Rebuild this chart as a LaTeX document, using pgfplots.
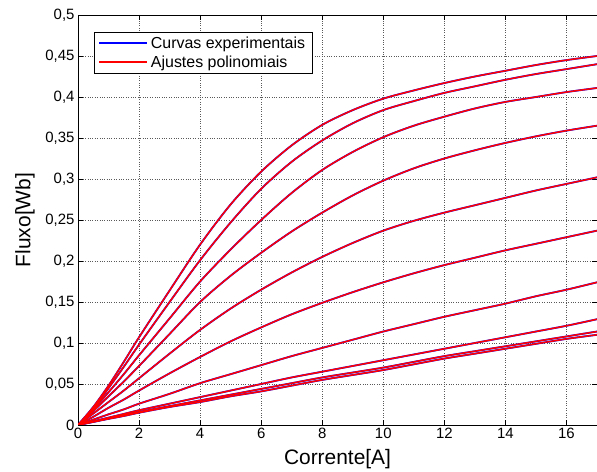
\documentclass[border=0pt]{standalone}
\usepackage{pgfplots}
\pgfplotsset{compat=1.18}
\usepackage{pgfplotstable}
\usepackage{fontspec}
\setmainfont{Liberation Sans}

\pgfplotstableread{
x    c1    c2    c3    c4    c5    c6    c7     c8     c9    c10
0    0     0     0     0     0     0     0      0      0     0
0.5  0.022 0.020 0.019 0.017 0.014 0.010 0.0065 0.0045 0.004 0.0037
1    0.048 0.045 0.040 0.035 0.028 0.021 0.013  0.009  0.008 0.0075
1.5  0.077 0.071 0.062 0.053 0.042 0.031 0.019  0.0135 0.012 0.011
2    0.107 0.098 0.085 0.072 0.057 0.042 0.026  0.018  0.016 0.015
3    0.164 0.150 0.130 0.111 0.087 0.063 0.038  0.026  0.023 0.022
4    0.220 0.201 0.175 0.150 0.116 0.083 0.051  0.034  0.030 0.028
5    0.269 0.247 0.214 0.182 0.142 0.102 0.062  0.042  0.037 0.035
6    0.309 0.288 0.250 0.210 0.165 0.119 0.073  0.050  0.044 0.041
7    0.341 0.321 0.283 0.236 0.186 0.135 0.084  0.058  0.051 0.048
8    0.366 0.347 0.311 0.259 0.205 0.149 0.094  0.065  0.058 0.055
9    0.384 0.368 0.333 0.280 0.222 0.162 0.104  0.072  0.064 0.061
10   0.398 0.384 0.351 0.298 0.237 0.174 0.114  0.079  0.070 0.067
11   0.408 0.395 0.365 0.313 0.249 0.185 0.123  0.086  0.077 0.074
12   0.417 0.405 0.376 0.325 0.259 0.195 0.132  0.093  0.084 0.081
13   0.425 0.413 0.386 0.335 0.268 0.204 0.140  0.100  0.090 0.087
14   0.432 0.421 0.394 0.344 0.277 0.213 0.148  0.107  0.096 0.093
15   0.439 0.428 0.400 0.352 0.286 0.221 0.157  0.114  0.102 0.099
16   0.445 0.434 0.406 0.359 0.294 0.229 0.165  0.121  0.108 0.105
17   0.450 0.440 0.411 0.365 0.302 0.237 0.174  0.129  0.114 0.110
}\data

\begin{document}
\begin{tikzpicture}
\useasboundingbox (0,0) rectangle (597bp,472bp);
\begin{axis}[
  at={(78bp,47bp)}, anchor=south west,
  scale only axis, width=519bp, height=410bp,
  xmin=0, xmax=17, ymin=0, ymax=0.5,
  xtick={0,2,4,6,8,10,12,14,16},
  xticklabels={0,2,4,6,8,10,12,14,16},
  ytick={0,0.05,0.1,0.15,0.2,0.25,0.3,0.35,0.4,0.45,0.5},
  yticklabels={0,{0,05},{0,1},{0,15},{0,2},{0,25},{0,3},{0,35},{0,4},{0,45},{0,5}},
  ticklabel style={font=\fontsize{15}{17}\selectfont},
  tick align=inside, major tick length=5bp,
  tick style={black, line width=0.6pt},
  axis line style={line width=0.8pt},
  grid=major,
  major grid style={dotted, line width=0.7pt, black!65},
  xlabel={Corrente[A]}, ylabel={Fluxo[Wb]},
  label style={font=\fontsize{21}{24}\selectfont},
  xlabel style={at={(axis description cs:0.5,-0.083)}, anchor=center},
  ylabel style={at={(axis description cs:-0.102,0.5)}, anchor=center},
  legend style={at={(rel axis cs:0.0308,0.9585)}, anchor=north west,
    font=\fontsize{16}{18}\selectfont, draw=black,
    inner xsep=4bp, inner ysep=1.5bp, nodes={inner sep=3bp}, row sep=0pt},
  legend cell align=left,
  legend image code/.code={\draw[#1] (0bp,0bp) -- (48bp,0bp);},
  every axis plot/.append style={smooth},
]
\addlegendimage{draw=blue, line width=1.8pt}
\addlegendentry{Curvas experimentais}
\addlegendimage{draw=red, line width=1.8pt}
\addlegendentry{Ajustes polinomiais}
\addplot[blue, line width=1.8pt, forget plot] table[x=x,y=c1]{\data};
\addplot[blue, line width=1.8pt, forget plot] table[x=x,y=c2]{\data};
\addplot[blue, line width=1.8pt, forget plot] table[x=x,y=c3]{\data};
\addplot[blue, line width=1.8pt, forget plot] table[x=x,y=c4]{\data};
\addplot[blue, line width=1.8pt, forget plot] table[x=x,y=c5]{\data};
\addplot[blue, line width=1.8pt, forget plot] table[x=x,y=c6]{\data};
\addplot[blue, line width=1.8pt, forget plot] table[x=x,y=c7]{\data};
\addplot[blue, line width=1.8pt, forget plot] table[x=x,y=c8]{\data};
\addplot[blue, line width=1.8pt, forget plot] table[x=x,y=c9]{\data};
\addplot[blue, line width=1.8pt, forget plot] table[x=x,y=c10]{\data};
\addplot[red, line width=1.5pt, forget plot] table[x=x,y=c1]{\data};
\addplot[red, line width=1.5pt, forget plot] table[x=x,y=c2]{\data};
\addplot[red, line width=1.5pt, forget plot] table[x=x,y=c3]{\data};
\addplot[red, line width=1.5pt, forget plot] table[x=x,y=c4]{\data};
\addplot[red, line width=1.5pt, forget plot] table[x=x,y=c5]{\data};
\addplot[red, line width=1.5pt, forget plot] table[x=x,y=c6]{\data};
\addplot[red, line width=1.5pt, forget plot] table[x=x,y=c7]{\data};
\addplot[red, line width=1.5pt, forget plot] table[x=x,y=c8]{\data};
\addplot[red, line width=1.5pt, forget plot] table[x=x,y=c9]{\data};
\addplot[red, line width=1.5pt, forget plot] table[x=x,y=c10]{\data};
\end{axis}
\end{tikzpicture}
\end{document}
